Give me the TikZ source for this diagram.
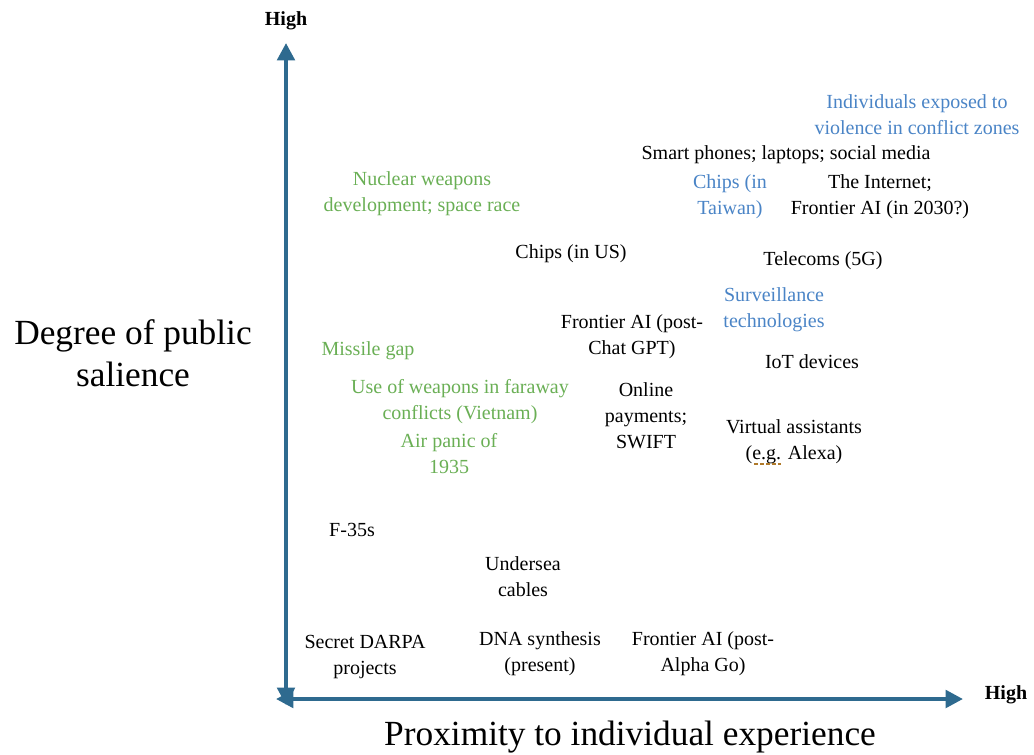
\documentclass[tikz,border=0pt]{standalone}
\usepackage{fontspec}
\setmainfont{Liberation Serif}
\usetikzlibrary{arrows.meta}

\definecolor{axiscol}{HTML}{2E6A8F}
\definecolor{bluetxt}{HTML}{4A84C6}
\definecolor{greentxt}{HTML}{6AAF55}
\definecolor{spellcol}{HTML}{B07A2A}

\tikzset{
  item/.style={align=center, inner sep=0pt, yshift=-1.8pt,
    font=\fontsize{15}{19.5}\selectfont},
  axislabel/.style={align=center, inner sep=0pt,
    font=\fontsize{26.5}{31.5}\selectfont},
  highlabel/.style={inner sep=0pt, font=\fontsize{15}{17}\selectfont\bfseries},
  axisline/.style={draw=axiscol, line width=3pt,
    {Triangle[length=13pt,width=13pt]}-{Triangle[length=13pt,width=13pt]}}
}

\begin{document}
\begin{tikzpicture}[x=0.75pt,y=-0.75pt]

        \useasboundingbox (0,0) rectangle (1034,754);

        % axes
        \coordinate (ybot) at (286,705);
        \coordinate (ytop) at (286,43);
        \coordinate (xleft) at (276,699);
        \coordinate (xright) at (963,699);
        \draw[axisline] (ybot) -- (ytop);
        \draw[axisline] (xleft) -- (xright);

        \node[highlabel] (hy) at (286,21) {High};
        \node[highlabel] (hx) at (1006,695) {High};
        \node[axislabel] (ylab) at (133,353) {Degree of public\\salience};
        \node[axislabel] (xlab) at (630,737) {Proximity to individual experience};

        % black items
        \begin{scope}[every node/.style={item}]
          \node (1)  at (786,152) {Smart phones; laptops; social media};
          \node (2)  at (880,194) {The Internet;\\Frontier AI (in 2030?)};
          \node (3)  at (571,251) {Chips (in US)};
          \node (4)  at (823,258) {Telecoms (5G)};
          \node (5)  at (632,334) {Frontier AI (post-\\Chat GPT)};
          \node (6)  at (812,359) {IoT devices};
          \node (7)  at (646,413) {Online\\payments;\\SWIFT};
          \node (8)  at (794,439) {Virtual assistants\\(e.g. Alexa)};
          \node (9)  at (352,528) {F-35s};
          \node (10) at (523,574) {Undersea\\cables};
          \node (11) at (365,655) {Secret DARPA\\projects};
          \node (12) at (540,651) {DNA synthesis\\(present)};
          \node (13) at (703,651) {Frontier AI (post-\\Alpha Go)};
        \end{scope}

        % blue items
        \begin{scope}[every node/.style={item, text=bluetxt}]
          \node (14) at (917,112) {Individuals exposed to\\violence in conflict zones};
          \node (15) at (730,194) {Chips (in\\Taiwan)};
          \node (16) at (774,307) {Surveillance\\technologies};
        \end{scope}

        % green items
        \begin{scope}[every node/.style={item, text=greentxt}]
          \node (17) at (422,191) {Nuclear weapons\\development; space race};
          \node (18) at (368,348) {Missile gap};
          \node (19) at (460,399) {Use of weapons in faraway\\conflicts (Vietnam)};
          \node (20) at (449,451) {Air panic of\\1935};
        \end{scope}

        % spell-check mark under e.g.
        \coordinate (sp1) at (754,464);
        \coordinate (sp2) at (781,464);
        \draw[spellcol, line width=2pt, dash pattern=on 3pt off 1.5pt] (sp1) -- (sp2);

\end{tikzpicture}
\end{document}
